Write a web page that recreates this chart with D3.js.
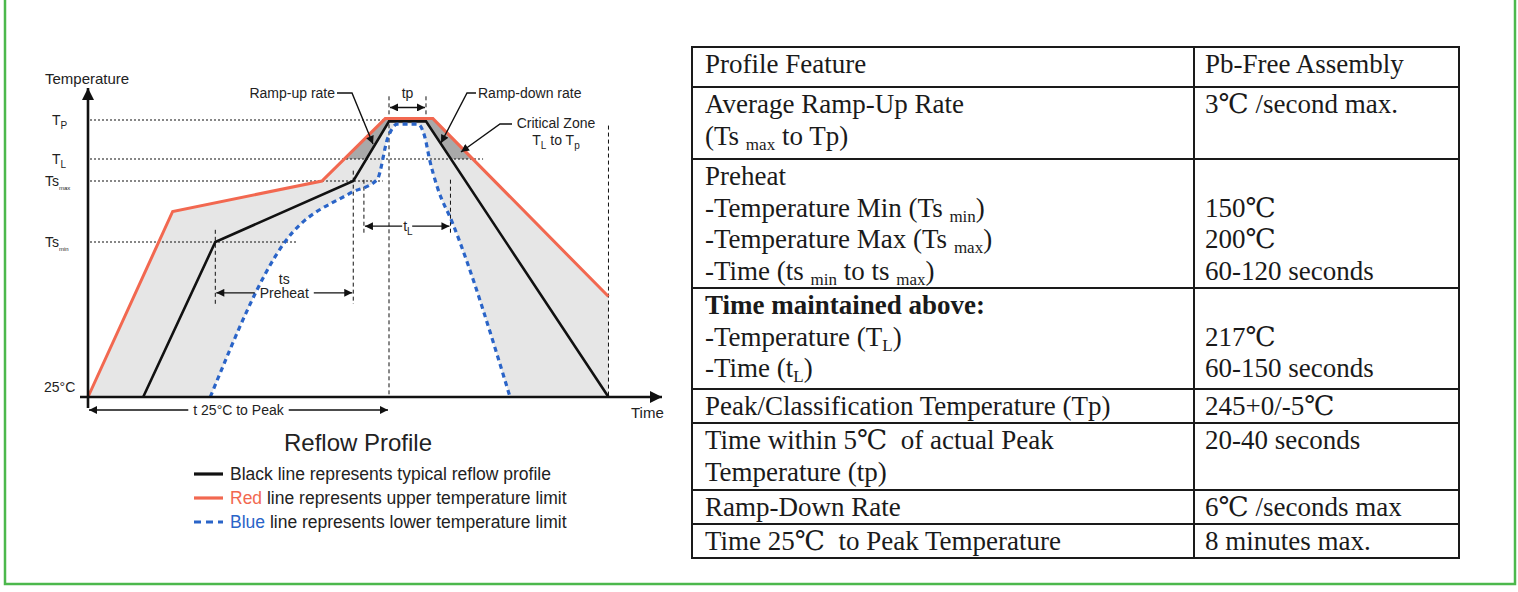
<!DOCTYPE html>
<html>
<head>
<meta charset="utf-8">
<title>Reflow Profile</title>
<script src="https://cdn.jsdelivr.net/npm/d3@7"></script>
<style>
body { margin: 0; background: #fff; }
text { white-space: pre; }
</style>
</head>
<body>
<script>
// profiles: time in seconds, temperature in degC
var redTime   = [0, 135, 373, 474, 550, 830];
var redTemp   = [25, 175, 200, 246, 246, 106];
var blackTime = [88, 203, 423, 480, 539, 830];
var blackTemp = [25, 150, 200, 244, 244, 25];
var blueTime  = [195, 314, 418, 461, 478, 493, 526, 537, 545, 557, 581, 673];
var blueTemp  = [25, 150, 190, 201, 232, 242, 242, 233, 216, 195, 166, 25];

// temperature levels on the y axis
var levelTemp = [25, 150, 200, 217, 245];
var levelName = ["25°C", "Ts", "Ts", "T", "T"];
var levelSub  = ["", "min", "max", "L", "P"];

// time marks
var tsTimes = [203, 423];
var tLTimes = [440, 578];
var tpTimes = [480, 539];
var peakTime = 480;
var endTime = 830;

// legend
var legendWord = ["Black", "Red", "Blue"];
var legendRest = [" line represents typical reflow profile",
                  " line represents upper temperature limit",
                  " line represents lower temperature limit"];

// table
var featureRows = [
  ["Profile Feature"],
  ["Average Ramp-Up Rate", "(Ts _{max} to Tp)"],
  ["Preheat", "-Temperature Min (Ts _{min})", "-Temperature Max (Ts _{max})", "-Time (ts _{min} to ts _{max})"],
  ["Time maintained above:", "-Temperature (T_{L})", "-Time (t_{L})"],
  ["Peak/Classification Temperature (Tp)"],
  ["Time within 5℃  of actual Peak", "Temperature (tp)"],
  ["Ramp-Down Rate"],
  ["Time 25℃  to Peak Temperature"]
];
var pbFreeRows = [
  ["Pb-Free Assembly"],
  ["3℃ /second max."],
  ["", "150℃", "200℃", "60-120 seconds"],
  ["", "217℃", "60-150 seconds"],
  ["245+0/-5℃"],
  ["20-40 seconds"],
  ["6℃ /seconds max"],
  ["8 minutes max."]
];

var W = 1518, H = 592;
var svg = d3.select("body").append("svg").attr("width", W).attr("height", H);

// scales (y is piecewise, the drawing is not to scale)
var x = d3.scaleLinear().domain([0, 480]).range([88, 389]);
var y = d3.scaleLinear().domain(levelTemp).range([397, 242, 181, 159, 120]);

var sans = "'Liberation Sans', Arial, sans-serif";
var serif = "'Liberation Serif', 'DejaVu Serif', 'Times New Roman', serif";

// green frame
svg.append("rect").attr("x", 5).attr("y", -10).attr("width", 1510).attr("height", 594)
  .attr("fill", "none").attr("stroke", "#4cb84c").attr("stroke-width", 2.5);

var defs = svg.append("defs");
function marker(id, w, h) {
  defs.append("marker").attr("id", id)
    .attr("viewBox", "0 0 10 10").attr("refX", 10).attr("refY", 5)
    .attr("markerWidth", w).attr("markerHeight", h)
    .attr("markerUnits", "userSpaceOnUse").attr("orient", "auto-start-reverse")
    .append("path").attr("d", "M0,0L10,5L0,10Z").attr("fill", "#111");
}
marker("axisHead", 14, 12);
marker("head", 10, 8);
defs.append("clipPath").attr("id", "crit")
  .append("rect").attr("x", 0).attr("y", 0).attr("width", 700).attr("height", y(217));

var redPts = d3.zip(redTime, redTemp);
var blackPts = d3.zip(blackTime, blackTemp);
var bluePts = d3.zip(blueTime, blueTemp);

var line = d3.line().x(function(d){ return x(d[0]); }).y(function(d){ return y(d[1]); });
var curve = d3.line().x(function(d){ return x(d[0]); }).y(function(d){ return y(d[1]); }).curve(d3.curveMonotoneX);
var under = d3.area().x(function(d){ return x(d[0]); }).y0(y(25)).y1(function(d){ return y(d[1]); });
var underCurve = d3.area().x(function(d){ return x(d[0]); }).y0(y(25)).y1(function(d){ return y(d[1]); }).curve(d3.curveMonotoneX);

var chart = svg.append("g");

// shaded band between upper and lower limit, darker above TL
chart.append("path").attr("d", under(redPts)).attr("fill", "#e6e6e6");
chart.append("path").attr("d", under(redPts)).attr("fill", "#a9a9a9").attr("clip-path", "url(#crit)");
chart.append("path").attr("d", under(blackPts)).attr("fill", "#e6e6e6").attr("clip-path", "url(#crit)");
chart.append("path").attr("d", underCurve(bluePts)).attr("fill", "#fff");

// dotted level lines
var guideEnd = [0, 333, 470, 630, 474];
levelTemp.forEach(function(t, i){
  if (i === 0) return;
  chart.append("line").attr("x1", 90).attr("x2", x(guideEnd[i]))
    .attr("y1", y(t)).attr("y2", y(t))
    .attr("stroke", "#111").attr("stroke-width", 1.2).attr("stroke-dasharray", "2,2");
});

// dashed time lines
var vLines = [
  [tsTimes[0], 160, 100], [tsTimes[1], 208, 100],
  [tLTimes[0], 201, 157], [tLTimes[1], 201, 157],
  [tpTimes[0], 262, 25], [tpTimes[1], 262, 245],
  [endTime, 241, 25]
];
vLines.forEach(function(v){
  chart.append("line").attr("x1", x(v[0])).attr("x2", x(v[0]))
    .attr("y1", y(v[1])).attr("y2", y(v[2]))
    .attr("stroke", "#111").attr("stroke-width", 1).attr("stroke-dasharray", "4,3");
});

// profiles
chart.append("path").attr("d", line(redPts)).attr("fill", "none")
  .attr("stroke", "#f26850").attr("stroke-width", 3);
chart.append("path").attr("d", line(blackPts)).attr("fill", "none")
  .attr("stroke", "#111").attr("stroke-width", 2.6);
chart.append("path").attr("d", curve(bluePts)).attr("fill", "none")
  .attr("stroke", "#2a64c8").attr("stroke-width", 3.2).attr("stroke-dasharray", "5,4");

// axes
chart.append("line").attr("x1", 88).attr("y1", 408).attr("x2", 88).attr("y2", 88)
  .attr("stroke", "#111").attr("stroke-width", 2.6).attr("marker-end", "url(#axisHead)");
chart.append("line").attr("x1", 80).attr("y1", y(25)).attr("x2", 662).attr("y2", y(25))
  .attr("stroke", "#111").attr("stroke-width", 2.6).attr("marker-end", "url(#axisHead)");

function label(px, py, str, size, anchor) {
  return chart.append("text").attr("x", px).attr("y", py).attr("font-family", sans)
    .attr("font-size", size).attr("fill", "#222").attr("text-anchor", anchor || "start").text(str);
}

label(45, 84, "Temperature", 15);
label(631, 418, "Time", 15);

// y level labels
levelTemp.forEach(function(t, i){
  var tx = i === 0 ? 44 : (levelName[i] === "T" ? 52 : 45);
  var txt = chart.append("text").attr("x", tx).attr("y", y(t) + (i === 0 ? -5 : 5))
    .attr("font-family", sans).attr("font-size", 14).attr("fill", "#222");
  txt.append("tspan").text(levelName[i]);
  if (levelSub[i]) {
    var small = levelName[i] === "T" ? 10 : 6;
    txt.append("tspan").attr("dy", 4).attr("font-size", small).text(levelSub[i]);
  }
});

// dimension arrows with a label in a gap
function dimArrow(t0, t1, py, str, ly) {
  var cx = (x(t0) + x(t1)) / 2;
  var tx = label(cx, ly, str, 14, "middle");
  var half = tx.node().getComputedTextLength() / 2 + 5;
  chart.append("line").attr("x1", cx - half).attr("x2", x(t0) + 1).attr("y1", py).attr("y2", py)
    .attr("stroke", "#111").attr("stroke-width", 1.4).attr("marker-end", "url(#head)");
  chart.append("line").attr("x1", cx + half).attr("x2", x(t1) - 1).attr("y1", py).attr("y2", py)
    .attr("stroke", "#111").attr("stroke-width", 1.4).attr("marker-end", "url(#head)");
}
dimArrow(0, peakTime, y(25) + 13, "t 25°C to Peak", y(25) + 18);
dimArrow(tsTimes[0], tsTimes[1], y(109), "Preheat", y(109) + 5);
label((x(tsTimes[0]) + x(tsTimes[1])) / 2, y(109) - 9, "ts", 14, "middle");
dimArrow(tLTimes[0], tLTimes[1], y(163), "", y(163));
var tl = chart.append("text").attr("x", (x(tLTimes[0]) + x(tLTimes[1])) / 2 - 4).attr("y", y(163) + 5)
  .attr("font-family", sans).attr("font-size", 14).attr("fill", "#222");
tl.append("tspan").text("t");
tl.append("tspan").attr("dy", 4).attr("font-size", 10).text("L");

// tp arrow
chart.append("line").attr("x1", x(tpTimes[0]) + 1).attr("x2", x(tpTimes[1]) - 1)
  .attr("y1", y(254)).attr("y2", y(254))
  .attr("stroke", "#111").attr("stroke-width", 1.4)
  .attr("marker-start", "url(#head)").attr("marker-end", "url(#head)");
label((x(tpTimes[0]) + x(tpTimes[1])) / 2, y(254) - 9, "tp", 14, "middle");

// callouts
function callout(pts) {
  chart.append("path").attr("d", d3.line()(pts)).attr("fill", "none")
    .attr("stroke", "#111").attr("stroke-width", 1.4).attr("marker-end", "url(#head)");
}
label(335, 98, "Ramp-up rate", 14, "end");
callout([[337, 93], [352, 93], [373, 144]]);
label(478, 98, "Ramp-down rate", 14);
callout([[476, 93], [467, 93], [441, 143]]);
label(556, 128, "Critical Zone", 14, "middle");
var cz = chart.append("text").attr("x", 556).attr("y", 145).attr("text-anchor", "middle")
  .attr("font-family", sans).attr("font-size", 14).attr("fill", "#222");
cz.append("tspan").text("T");
cz.append("tspan").attr("dy", 4).attr("font-size", 10).text("L");
cz.append("tspan").attr("dy", -4).text(" to T");
cz.append("tspan").attr("dy", 4).attr("font-size", 10).text("p");
callout([[512, 124], [500, 124], [461, 152]]);

// title and legend
label(358, 451, "Reflow Profile", 24, "middle");
var legendColor = ["#111", "#f26850", "#2a64c8"];
var legendDash = [null, null, "7,5"];
legendWord.forEach(function(w, i){
  var ly = 474 + i * 24;
  chart.append("line").attr("x1", 194).attr("x2", 223).attr("y1", ly).attr("y2", ly)
    .attr("stroke", legendColor[i]).attr("stroke-width", 3.2).attr("stroke-dasharray", legendDash[i]);
  var t = chart.append("text").attr("x", 230).attr("y", ly + 6)
    .attr("font-family", sans).attr("font-size", 17.5).attr("fill", "#222");
  t.append("tspan").attr("fill", i === 0 ? "#222" : legendColor[i]).text(w);
  t.append("tspan").text(legendRest[i]);
});

// table
var rowTop = [47, 87, 159, 288, 389, 423, 490, 524, 558];
var colX = [692, 1194, 1459];
var fs = 27;
var tbl = svg.append("g");

function rich(sel, str, size, subSize, shift) {
  var parts = str.split(/_\{|\}/), low = false;
  parts.forEach(function(p, i){
    if (!p) return;
    var sub = i % 2 === 1;
    var dy = (sub && !low) ? shift : ((!sub && low) ? -shift : 0);
    low = sub;
    sel.append("tspan").attr("dy", dy).attr("font-size", sub ? subSize : size).text(p);
  });
}

featureRows.forEach(function(lines, r){
  var top = rowTop[r];
  lines.forEach(function(s, k){
    var t = tbl.append("text").attr("x", colX[0] + 13).attr("y", top + 26 + k * 31.7)
      .attr("font-family", serif).attr("font-size", fs).attr("fill", "#1a1a1a")
      .attr("font-weight", (r === 3 && k === 0) ? "bold" : "normal");
    rich(t, s, fs, 17, 5);
  });
  pbFreeRows[r].forEach(function(s, k){
    if (!s) return;
    tbl.append("text").attr("x", colX[1] + 11).attr("y", top + 26 + k * 31.7)
      .attr("font-family", serif).attr("font-size", fs).attr("fill", "#1a1a1a").text(s);
  });
});

rowTop.forEach(function(ry){
  tbl.append("line").attr("x1", colX[0]).attr("x2", colX[2]).attr("y1", ry).attr("y2", ry)
    .attr("stroke", "#1a1a1a").attr("stroke-width", 2);
});
colX.forEach(function(cx){
  tbl.append("line").attr("x1", cx).attr("x2", cx).attr("y1", rowTop[0] - 1).attr("y2", rowTop[rowTop.length - 1] + 1)
    .attr("stroke", "#1a1a1a").attr("stroke-width", 2);
});
</script>
</body>
</html>
